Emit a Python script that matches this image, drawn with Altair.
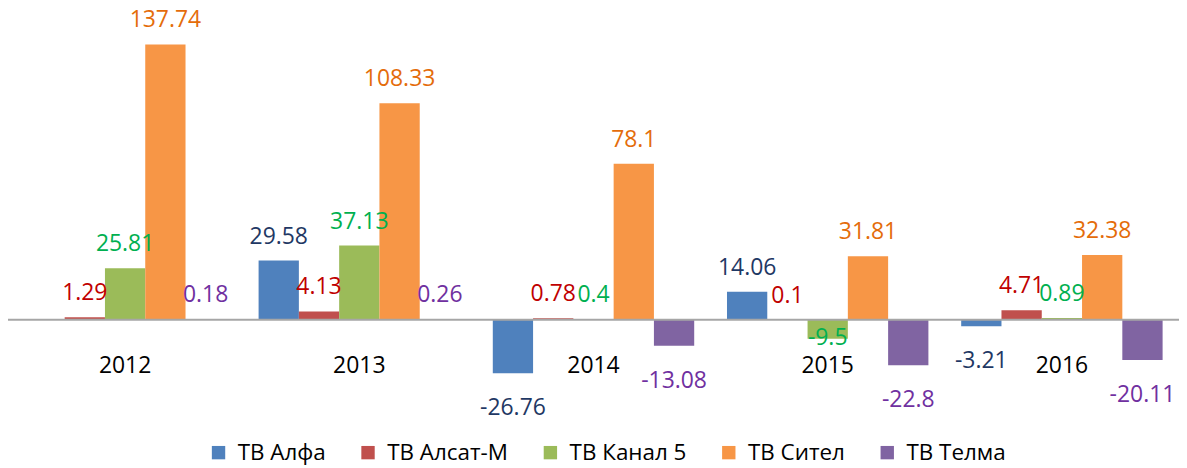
import altair as alt
import pandas as pd

years = ["2012", "2013", "2014", "2015", "2016"]
series = ["ТВ Алфа", "ТВ Алсат-М", "ТВ Канал 5", "ТВ Сител", "ТВ Телма"]
alfa = [None, 29.58, -26.76, 14.06, -3.21]
alsat = [1.29, 4.13, 0.78, 0.1, 4.71]
kanal5 = [25.81, 37.13, 0.4, -9.5, 0.89]
sitel = [137.74, 108.33, 78.1, 31.81, 32.38]
telma = [0.18, 0.26, -13.08, -22.8, -20.11]

bar_colors = ["#4F81BD", "#C0504D", "#9BBB59", "#F79646", "#8064A2"]
label_colors = ["#1F3864", "#C00000", "#00B050", "#E46C0A", "#7030A0"]

rows = []
for s, vals in zip(series, [alfa, alsat, kanal5, sitel, telma]):
    for y, v in zip(years, vals):
        if v is not None:
            rows.append({"year": y, "s": s, "v": v})
df = pd.DataFrame(rows)
ydf = pd.DataFrame({"year": years})
zdf = pd.DataFrame({"z": [0]})

xenc = alt.X("year:N", sort=years, axis=None,
             scale=alt.Scale(paddingInner=0.14, paddingOuter=0.07))
yscale = alt.Scale(domain=[-73.8, 155.6], nice=False, zero=False)
xoff = alt.XOffset("s:N", sort=series, scale=alt.Scale(paddingInner=0, paddingOuter=0))

bars = alt.Chart(df).mark_bar().encode(
    x=xenc,
    xOffset=xoff,
    y=alt.Y("v:Q", scale=yscale, axis=None),
    color=alt.Color("s:N", sort=series,
                    scale=alt.Scale(domain=series, range=bar_colors),
                    legend=alt.Legend(orient="none", legendX=200, legendY=434,
                                      direction="horizontal", title=None,
                                      symbolType="square", symbolSize=180,
                                      symbolStrokeWidth=0, labelFontSize=22.5,
                                      labelOffset=8, columnPadding=31,
                                      labelColor="#000000", labelFont="Open Sans")),
)

labels = alt.Chart(df).transform_calculate(
    ly="datum.v >= 0 ? datum.v + 8.5 : (datum.s == 'ТВ Канал 5' ? datum.v - 3 : datum.v - 21)",
    lab="'' + datum.v",
).mark_text(fontSize=23, baseline="alphabetic", font="Open Sans").encode(
    x=xenc,
    xOffset=xoff,
    y=alt.Y("ly:Q", scale=yscale, axis=None),
    text="lab:N",
    color=alt.Color("s:N", sort=series,
                    scale=alt.Scale(domain=series, range=label_colors), legend=None),
)

zero = alt.Chart(zdf).mark_rule(color="#A6A6A6", strokeWidth=2).encode(
    y=alt.Y("z:Q", scale=yscale, axis=None)
)

yearlab = alt.Chart(ydf).mark_text(fontSize=23, baseline="alphabetic", color="#000000",
                                   font="Open Sans").encode(
    x=xenc,
    y=alt.value(365),
    text="year:N",
)

chart = alt.layer(bars, zero, labels, yearlab).resolve_scale(color="independent").properties(
    width=1175, height=460, padding=0, autosize=alt.AutoSizeParams(type="none")
).configure(font="Open Sans").configure_view(stroke=None, strokeWidth=0)

chart.save("out.html", embed_options={"renderer": "svg", "actions": False})
